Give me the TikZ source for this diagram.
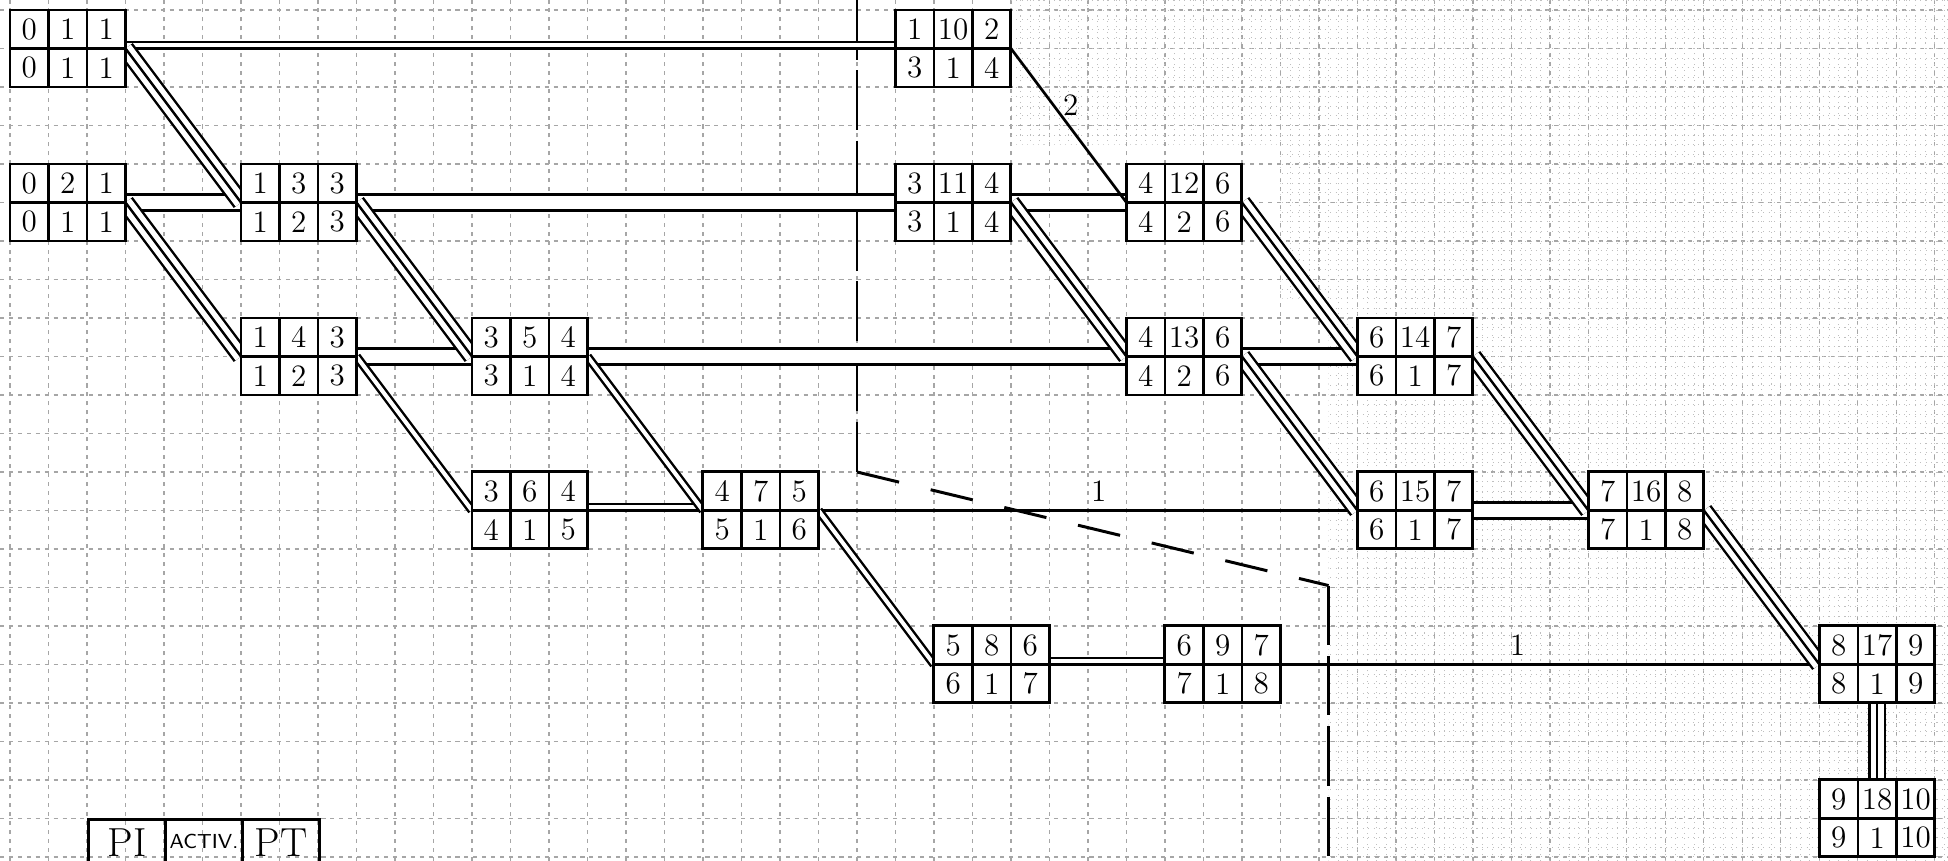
\documentclass[tikz,border=0pt]{standalone}
\usepackage{tikz}
\usetikzlibrary{backgrounds}

\begin{document}
\begin{tikzpicture}[x=5mm, y=5mm,
			vorgang/.style={draw, line width=1.1pt, fill=white, minimum width=15mm, minimum height=10mm, inner sep=0pt, outer sep=0pt},
			zelle/.style={font=\fontsize{11.5}{13}\selectfont, inner sep=0pt},
			einfach/.style={draw, line width=1pt},
			doppelt/.style={draw, line width=0.9pt, double, double distance=1.5pt},
			dreifach/.style={draw, line width=0.9pt, preaction={draw, line width=6.7pt}, preaction={draw, white, line width=4.9pt}},
			hoch2/.style={transform canvas={yshift=1.2pt}},
			hoch3/.style={transform canvas={yshift=2.9pt}},
			marke/.style={font=\fontsize{11.5}{13}\selectfont, inner sep=1pt},
			schnitt/.style={line width=1pt, dash pattern=on 22pt off 4pt},
			legende/.style={draw, line width=1.1pt, minimum width=10mm, inner sep=0pt, anchor=north west, text height=4.7mm, text depth=5.3mm}]
			\useasboundingbox (-0.26,0.26) rectangle (50.34,-22.1);
			%Vorgaenge: Nr/x/y/PI/Nr/PT/unten links/Dauer/unten rechts
			\foreach \n/\x/\y/\a/\b/\c/\d/\e/\f in {1/0/0/0/1/1/0/1/1, 2/0/4/0/2/1/0/1/1, 3/6/4/1/3/3/1/2/3,
				4/6/8/1/4/3/1/2/3, 5/12/8/3/5/4/3/1/4, 6/12/12/3/6/4/4/1/5, 7/18/12/4/7/5/5/1/6,
				8/24/16/5/8/6/6/1/7, 9/30/16/6/9/7/7/1/8, 10/23/0/1/10/2/3/1/4, 11/23/4/3/11/4/3/1/4,
				12/29/4/4/12/6/4/2/6, 13/29/8/4/13/6/4/2/6, 14/35/8/6/14/7/6/1/7, 15/35/12/6/15/7/6/1/7,
				16/41/12/7/16/8/7/1/8, 17/47/16/8/17/9/8/1/9, 18/47/20/9/18/10/9/1/10}
			{
				\node[vorgang] (v\n) at (\x+1.5,-\y-1) {};
				\draw[line width=0.9pt] (\x+1,-\y) -- (\x+1,-\y-2) (\x+2,-\y) -- (\x+2,-\y-2) (\x,-\y-1) -- (\x+3,-\y-1);
				\node[zelle] (v\n-o1) at (\x+0.5,-\y-0.5) {\a};
				\node[zelle] (v\n-o2) at (\x+1.5,-\y-0.5) {\b};
				\node[zelle] (v\n-o3) at (\x+2.5,-\y-0.5) {\c};
				\node[zelle] (v\n-u1) at (\x+0.5,-\y-1.5) {\d};
				\node[zelle] (v\n-u2) at (\x+1.5,-\y-1.5) {\e};
				\node[zelle] (v\n-u3) at (\x+2.5,-\y-1.5) {\f};
			}
			%Legende
			\begin{scope}
				\clip (-0.26,0.26) rectangle (50.34,-22.1);
				\node[legende, font=\fontsize{15}{17}\selectfont] (pi) at (2,-21) {PI};
				\node[legende, font=\sffamily\fontsize{7.5}{9}\selectfont, text height=3.7mm, text depth=6.3mm] (akt) at (4,-21) {ACTIV.};
				\node[legende, font=\fontsize{15}{17}\selectfont] (pt) at (6,-21) {PT};
			\end{scope}
			\begin{pgfonlayer}{background}
				%Raster zeichnen
				\draw[black!35, line width=0.4pt, dash pattern=on 1.5pt off 1.8pt, step=5mm] (-0.26,0.26) grid (50.34,-22.1);
				\begin{scope}
					\clip (26,0.26) -- (50.34,0.26) -- (50.34,-22.1) -- (34.25,-22.1) -- (34.25,-7.5) -- (33,-7.5) -- (33,-3.5) -- (26,-3.5) -- cycle;
					\draw[black!25, line width=0.35pt, dash pattern=on 0.4pt off 1.6pt, step=1.25mm] (26,0.26) grid (50.34,-22.1);
				\end{scope}
				%Schnittlinie
				\coordinate (s1) at (22,0.26);
				\coordinate (s2) at (22,-12);
				\coordinate (s3) at (34.25,-14.95);
				\coordinate (s4) at (34.25,-22.1);
				\draw[schnitt] (s1) -- (s2);
				\draw[line width=1.1pt, dash pattern=on 16pt off 12pt] (s2) -- (s3);
				\draw[schnitt] (s3) -- (s4);
				%Verbindungen waagrecht
				\draw[doppelt, hoch2] (v1.east) -- (v10.west);
				\draw[doppelt, hoch2] (v6.east) -- (v7.west);
				\draw[doppelt, hoch2] (v8.east) -- (v9.west);
				\draw[dreifach, hoch3] (v2.east) -- (v3.west);
				\draw[dreifach, hoch3] (v3.east) -- (v11.west);
				\draw[dreifach, hoch3] (v11.east) -- (v12.west);
				\draw[dreifach, hoch3] (v4.east) -- (v5.west);
				\draw[dreifach, hoch3] (v5.east) -- (v13.west);
				\draw[dreifach, hoch3] (v13.east) -- (v14.west);
				\draw[dreifach, hoch3] (v15.east) -- (v16.west);
				\draw[einfach] (v7.east) -- node[marke, pos=0.52, above=2pt] {1} (v15.west);
				\draw[einfach] (v9.east) -- node[marke, pos=0.44, above=2pt] {1} (v17.west);
				%Verbindungen schraeg
				\draw[doppelt] (v4.east) -- (v6.west);
				\draw[doppelt] (v5.east) -- (v7.west);
				\draw[doppelt] (v7.east) -- (v8.west);
				\draw[dreifach] (v1.east) -- (v3.west);
				\draw[dreifach] (v2.east) -- (v4.west);
				\draw[dreifach] (v3.east) -- (v5.west);
				\draw[dreifach] (v11.east) -- (v13.west);
				\draw[dreifach] (v12.east) -- (v14.west);
				\draw[dreifach] (v13.east) -- (v15.west);
				\draw[dreifach] (v14.east) -- (v16.west);
				\draw[dreifach] (v16.east) -- (v17.west);
				\draw[einfach] (v10.east) -- node[marke, pos=0.37, right=2pt] {2} (v12.west);
				\draw[dreifach] (v17.south) -- (v18.north);
			\end{pgfonlayer}
		\end{tikzpicture}
\end{document}
